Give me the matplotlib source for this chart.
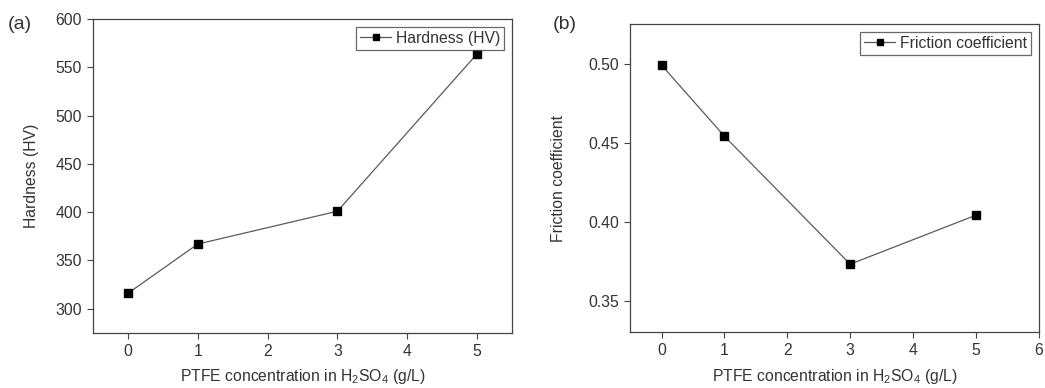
import matplotlib.pyplot as plt

plt.rcParams['font.family'] = ['Liberation Sans', 'DejaVu Sans']
plt.rcParams['mathtext.default'] = 'regular'

# Data
ptfe = [0, 1, 3, 5]
hardness = [316, 367, 401, 564]
friction = [0.499, 0.454, 0.373, 0.404]

xlabel = 'PTFE concentration in H$_2$SO$_4$ (g/L)'
line_col = '#5a5a5a'
txt_col = '#333333'
fs = 11.3

fig = plt.figure(figsize=(10.45, 3.88), dpi=100)
ax1 = fig.add_axes([0.089, 0.142, 0.401, 0.809])
ax2 = fig.add_axes([0.603, 0.144, 0.391, 0.794])

# (a) hardness
ax1.plot(ptfe, hardness, color=line_col, linewidth=0.9, marker='s',
         markersize=5.5, markerfacecolor='black', markeredgecolor='black',
         label='Hardness (HV)')
ax1.set_xlim(-0.5, 5.5)
ax1.set_ylim(275, 600)
ax1.set_xticks([0, 1, 2, 3, 4, 5])
ax1.set_yticks([300, 350, 400, 450, 500, 550, 600])
ax1.set_ylabel('Hardness (HV)', fontsize=fs, color=txt_col, labelpad=12)
ax1.set_xlabel(xlabel, fontsize=fs, color=txt_col, labelpad=6)

# (b) friction coefficient
ax2.plot(ptfe, friction, color=line_col, linewidth=0.9, marker='s',
         markersize=5.5, markerfacecolor='black', markeredgecolor='black',
         label='Friction coefficient')
ax2.set_xlim(-0.5, 6)
ax2.set_ylim(0.33, 0.525)
ax2.set_xticks([0, 1, 2, 3, 4, 5, 6])
ax2.set_yticks([0.35, 0.40, 0.45, 0.50])
ax2.set_yticklabels(['0.35', '0.40', '0.45', '0.50'])
ax2.set_ylabel('Friction coefficient', fontsize=fs, color=txt_col, labelpad=16)
ax2.set_xlabel(xlabel, fontsize=fs, color=txt_col, labelpad=6)

for ax in (ax1, ax2):
    for s in ax.spines.values():
        s.set_color('#444444')
        s.set_linewidth(0.9)
    ax.tick_params(direction='out', length=4, width=0.8, color='#444444',
                   labelsize=fs, labelcolor=txt_col, pad=4)
    leg = ax.legend(loc='upper right', fontsize=fs, fancybox=False,
                    handlelength=2.0, handletextpad=0.3, borderpad=0.25,
                    borderaxespad=0.5, markerscale=0.85)
    leg.get_frame().set_edgecolor('#444444')
    leg.get_frame().set_linewidth(0.9)
    for t in leg.get_texts():
        t.set_color(txt_col)

fig.text(0.007, 0.925, '(a)', fontsize=14, color=txt_col)
fig.text(0.529, 0.925, '(b)', fontsize=14, color=txt_col)

plt.savefig('out.png', dpi=100)
